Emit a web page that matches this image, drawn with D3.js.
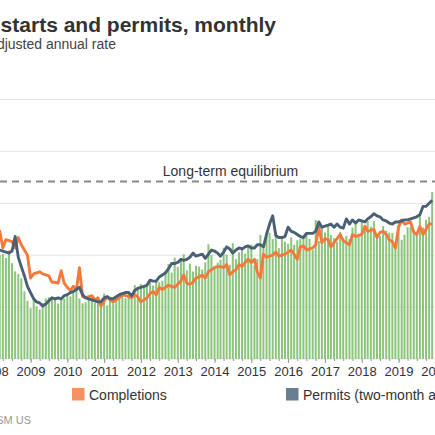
<!DOCTYPE html>
<html>
<head>
<meta charset="utf-8">
<script src="https://cdn.jsdelivr.net/npm/d3@7"></script>
<style>
  body { margin: 0; background: #fff; }
  svg { display: block; font-family: Arial, "Liberation Sans", sans-serif; }
</style>
</head>
<body>
<svg width="435" height="435"></svg>
<script>
// monthly values, millions of units (SAAR), Jan 2008 .. Dec 2019
const firstMonth = new Date(2008, 0, 1);

const starts = [
  1.084, 1.103, 1.005, 1.013, 0.973, 1.046, 0.923, 0.844, 0.820, 0.777, 0.652, 0.560,
  0.490, 0.582, 0.505, 0.478, 0.540, 0.585, 0.594, 0.586, 0.585, 0.534, 0.588, 0.581,
  0.614, 0.604, 0.636, 0.687, 0.583, 0.536, 0.546, 0.599, 0.594, 0.543, 0.545, 0.539,
  0.630, 0.517, 0.600, 0.554, 0.561, 0.608, 0.623, 0.585, 0.650, 0.610, 0.711, 0.694,
  0.723, 0.704, 0.695, 0.753, 0.708, 0.757, 0.740, 0.754, 0.847, 0.915, 0.833, 0.976,
  0.888, 0.962, 1.010, 0.853, 0.920, 0.843, 0.897, 0.889, 0.863, 0.930, 1.105, 1.001,
  0.897, 0.928, 0.957, 1.072, 1.006, 0.908, 1.116, 0.962, 1.026, 1.073, 1.015, 1.088,
  1.102, 0.902, 0.964, 1.196, 1.069, 1.189, 1.217, 1.155, 1.213, 1.068, 1.176, 1.130,
  1.110, 1.172, 1.100, 1.145, 1.155, 1.196, 1.207, 1.157, 1.053, 1.339, 1.136, 1.264,
  1.219, 1.282, 1.194, 1.164, 1.128, 1.225, 1.164, 1.186, 1.155, 1.265, 1.303, 1.205,
  1.336, 1.290, 1.327, 1.276, 1.329, 1.177, 1.184, 1.280, 1.237, 1.217, 1.214, 1.112,
  1.291, 1.149, 1.199, 1.270, 1.271, 1.246, 1.211, 1.375, 1.266, 1.340, 1.370, 1.608
];

const completions = [
  1.25, 1.22, 1.23, 1.07, 1.15, 1.14, 1.13, 1.07, 1.17, 1.10, 1.05, 1.00,
  0.78, 0.82, 0.83, 0.84, 0.82, 0.81, 0.80, 0.74, 0.74, 0.73, 0.85, 0.73,
  0.69, 0.66, 0.70, 0.67, 0.88, 0.60, 0.59, 0.60, 0.61, 0.57, 0.59, 0.51,
  0.56, 0.60, 0.57, 0.55, 0.57, 0.59, 0.62, 0.61, 0.60, 0.59, 0.62, 0.60,
  0.55, 0.57, 0.59, 0.63, 0.65, 0.62, 0.69, 0.67, 0.69, 0.71, 0.70, 0.69,
  0.72, 0.75, 0.81, 0.73, 0.72, 0.74, 0.78, 0.79, 0.81, 0.78, 0.84, 0.86,
  0.88, 0.89, 0.89, 0.88, 0.91, 0.81, 0.84, 0.86, 0.91, 0.89, 0.93, 0.96,
  0.93, 0.96, 0.84, 0.78, 1.01, 0.98, 0.99, 1.00, 1.03, 0.99, 1.00, 1.01,
  1.03, 1.05, 1.01, 0.96, 1.08, 1.09, 1.05, 1.06, 1.07, 1.10, 1.27, 1.12,
  1.16, 1.15, 1.08, 1.12, 1.16, 1.20, 1.14, 1.12, 1.10, 1.20, 1.18, 1.19,
  1.20, 1.28, 1.23, 1.24, 1.25, 1.17, 1.22, 1.23, 1.20, 1.15, 1.13, 1.07,
  1.27, 1.34, 1.30, 1.31, 1.32, 1.22, 1.20, 1.28, 1.20, 1.25, 1.30, 1.30
];

// permits, two-month average
const permits = [
  1.07, 1.06, 1.05, 1.04, 1.03, 1.02, 1.04, 1.18, 0.98, 0.89, 0.80, 0.70,
  0.64, 0.58, 0.55, 0.54, 0.51, 0.53, 0.56, 0.59, 0.58, 0.59, 0.58, 0.61,
  0.62, 0.64, 0.65, 0.67, 0.69, 0.62, 0.59, 0.58, 0.57, 0.56, 0.55, 0.55,
  0.59, 0.60, 0.58, 0.58, 0.60, 0.62, 0.63, 0.64, 0.64, 0.61, 0.66, 0.68,
  0.69, 0.70, 0.71, 0.76, 0.75, 0.75, 0.79, 0.81, 0.83, 0.87, 0.92, 0.92,
  0.93, 0.96, 0.95, 0.96, 0.98, 1.02, 0.99, 1.00, 1.01, 0.97, 1.01, 1.05,
  1.04, 1.02, 0.99, 1.03, 1.08, 1.06, 1.02, 1.05, 1.07, 1.06, 1.08, 1.09,
  1.07, 1.07, 1.10, 1.10, 1.08, 1.20, 1.30, 1.38, 1.19, 1.17, 1.17, 1.18,
  1.27, 1.23, 1.22, 1.20, 1.18, 1.17, 1.21, 1.21, 1.21, 1.23, 1.32, 1.27,
  1.28, 1.29, 1.30, 1.27, 1.30, 1.27, 1.26, 1.35, 1.30, 1.34, 1.31, 1.34,
  1.33, 1.32, 1.35, 1.37, 1.40, 1.38, 1.37, 1.34, 1.33, 1.31, 1.30, 1.32,
  1.32, 1.33, 1.34, 1.34, 1.35, 1.36, 1.37, 1.39, 1.47, 1.47, 1.50, 1.53
];

const equilibrium = 1.71;
const yTicks = [0, 0.5, 1, 1.5, 2, 2.5];

const titleText = 'US housing completions, starts and permits, monthly';
const subtitleText = 'Millions, seasonally adjusted annual rate';
const sourceText = 'Sources: Census Bureau, RSM US';

const legendItems = [
  { label: 'Completions', color: '#f69162' },
  { label: 'Permits (two-month average)', color: '#6a7e92' }
];

const svg = d3.select('svg');

const months = starts.map((d, i) => d3.timeMonth.offset(firstMonth, i));

const x = d3.scaleTime()
  .domain([new Date(2008, 0, 1), new Date(2020, 0, 1)])
  .range([-6.3, 435.3]);
const y = d3.scaleLinear().domain([0, 2.5]).range([359, 99.5]);

// gridlines
svg.append('g').selectAll('line').data(yTicks).enter()
  .append('line')
  .attr('x1', 0).attr('x2', 435)
  .attr('y1', d => y(d)).attr('y2', d => y(d))
  .attr('stroke', '#e4e4e4').attr('stroke-width', 1);

// equilibrium line
svg.append('line')
  .attr('x1', 0).attr('x2', 435)
  .attr('y1', y(equilibrium)).attr('y2', y(equilibrium))
  .attr('stroke', '#888').attr('stroke-width', 1.8)
  .attr('stroke-dasharray', '7,5');
svg.append('text')
  .attr('x', 230.5).attr('y', y(equilibrium) - 6)
  .attr('text-anchor', 'middle')
  .attr('font-size', 14).attr('fill', '#333')
  .text('Long-term equilibrium');

// starts bars
svg.append('g').selectAll('rect').data(starts).enter()
  .append('rect')
  .attr('x', (d, i) => x(months[i]) - 1)
  .attr('width', 2)
  .attr('y', d => y(d))
  .attr('height', d => y(0) - y(d))
  .attr('fill', '#8cc47c');

const line = d3.line()
  .x((d, i) => x(months[i]))
  .y(d => y(d));

svg.append('path')
  .attr('fill', 'none')
  .attr('stroke', '#f47a3b').attr('stroke-width', 2.9)
  .attr('stroke-linejoin', 'round')
  .attr('d', line(completions));

svg.append('path')
  .attr('fill', 'none')
  .attr('stroke', '#4a6076').attr('stroke-width', 2.9)
  .attr('stroke-linejoin', 'round')
  .attr('d', line(permits));

// x axis: minor quarterly ticks then yearly labels
const quarters = d3.timeMonth.every(3).range(new Date(2007, 0, 1), new Date(2020, 3, 1));
svg.append('g')
  .attr('transform', 'translate(0,' + y(0) + ')')
  .call(d3.axisBottom(x).tickValues(quarters).tickSize(2).tickFormat(''))
  .call(g => g.select('.domain').remove())
  .call(g => g.selectAll('line').attr('stroke', '#999'));

svg.append('g')
  .attr('transform', 'translate(0,' + y(0) + ')')
  .call(d3.axisBottom(x).ticks(d3.timeYear.every(1)).tickSize(4).tickPadding(4)
    .tickFormat(d3.timeFormat('%Y')))
  .call(g => g.select('.domain').remove())
  .call(g => g.selectAll('line').attr('stroke', '#999'))
  .call(g => g.selectAll('text').attr('font-size', 13).attr('fill', '#333')
    .attr('font-family', 'Arial, "Liberation Sans", sans-serif'));

// title block (the chart is cropped on the left)
svg.append('text')
  .attr('x', 276).attr('y', 32)
  .attr('text-anchor', 'end')
  .attr('font-size', 21).attr('font-weight', 'bold').attr('fill', '#333')
  .text(titleText);
svg.append('text')
  .attr('x', 116).attr('y', 49)
  .attr('text-anchor', 'end')
  .attr('font-size', 14).attr('fill', '#444')
  .text(subtitleText);

// legend
const legendX = [72, 286];
const lg = svg.append('g').selectAll('g').data(legendItems).enter()
  .append('g')
  .attr('transform', (d, i) => 'translate(' + legendX[i] + ',388)');
lg.append('rect').attr('width', 12.5).attr('height', 12.5).attr('fill', d => d.color);
lg.append('text')
  .attr('x', 17).attr('y', 11.5)
  .attr('font-size', 14).attr('fill', '#333')
  .text(d => d.label);

svg.append('text')
  .attr('x', 31).attr('y', 424)
  .attr('text-anchor', 'end')
  .attr('font-size', 11).attr('fill', '#999')
  .text(sourceText);
</script>
</body>
</html>
